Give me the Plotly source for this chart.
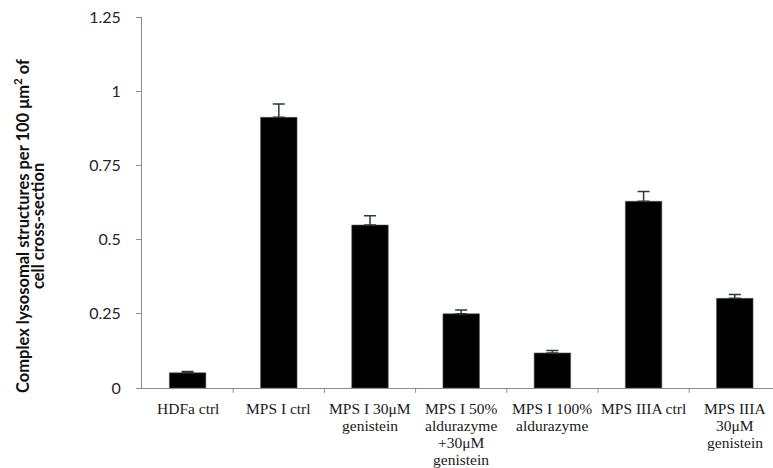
import plotly.graph_objects as go

categories = [
    "HDFa ctrl",
    "MPS I ctrl",
    "MPS I 30μM<br>genistein",
    "MPS I 50%<br>aldurazyme<br>+30μM<br>genistein",
    "MPS I 100%<br>aldurazyme",
    "MPS IIIA ctrl",
    "MPS IIIA<br>30μM<br>genistein",
]
values = [0.051, 0.912, 0.549, 0.250, 0.118, 0.629, 0.302]
errors = [0.005, 0.045, 0.031, 0.013, 0.008, 0.033, 0.013]
y_ticks = [0, 0.25, 0.5, 0.75, 1, 1.25]
y_tick_labels = ["0", "0.25", "0.5", "0.75", "1", "1.25"]
y_title_lines = ["Complex lysosomal structures per 100 μm<sup>2</sup> of", "cell cross-section"]

fig = go.Figure(
    go.Bar(
        x=list(range(len(categories))),
        y=values,
        marker=dict(color="black", line=dict(color="#555555", width=0.6)),
        error_y=dict(
            type="data",
            array=errors,
            arrayminus=[0] * len(errors),
            symmetric=False,
            color="#2b3a40",
            thickness=1.5,
            width=6,
        ),
        width=0.4,
    )
)

fig.update_layout(
    width=773,
    height=468,
    margin=dict(l=142, r=0, t=17, b=80, autoexpand=False),
    plot_bgcolor="white",
    paper_bgcolor="white",
    showlegend=False,
    xaxis=dict(
        tickmode="array",
        tickvals=list(range(len(categories))),
        showticklabels=False,
        range=[-0.5, 6.419],
        showline=True,
        linecolor="#8c8c8c",
        linewidth=1,
        ticks="",
        showgrid=False,
        zeroline=False,
        automargin=False,
    ),
    yaxis=dict(
        range=[0, 1.25],
        tickvals=y_ticks,
        ticktext=y_tick_labels,
        showline=True,
        linecolor="#8c8c8c",
        linewidth=1,
        ticks="outside",
        ticklen=5,
        tickcolor="#8c8c8c",
        showgrid=False,
        zeroline=False,
        ticklabelstandoff=12,
        automargin=False,
        tickfont=dict(family="Lato, Carlito, Calibri, sans-serif", size=16, color="#262626"),
    ),
)

# y-axis title, two rotated lines
title_x_px = [22, 38]
plot_w = 773 - 142
for line, xp in zip(y_title_lines, title_x_px):
    fig.add_annotation(
        text=line,
        textangle=-90,
        xref="paper",
        yref="paper",
        x=(xp - 142) / plot_w,
        y=(388 - 226) / 371,
        xanchor="center",
        yanchor="middle",
        showarrow=False,
        font=dict(family="Lato, Carlito, Calibri, sans-serif", size=16.5, color="#111111", weight="bold"),
    )

# category labels, line by line with tight spacing
for i, cat in enumerate(categories):
    for j, line in enumerate(cat.split("<br>")):
        fig.add_annotation(
            text=line,
            xref="x",
            yref="paper",
            x=i,
            y=0,
            xanchor="center",
            yanchor="middle",
            yshift=-(20 + 17.3 * j),
            showarrow=False,
            font=dict(family="Liberation Serif, Times New Roman, serif", size=15.5, color="#1a1a1a"),
        )

# x-axis tick marks at category boundaries
for b in [0.5, 1.5, 2.5, 3.5, 4.5, 5.5]:
    fig.add_shape(
        type="line", xref="x", yref="paper", x0=b, x1=b, y0=0, y1=-0.013,
        line=dict(color="#8c8c8c", width=1),
    )

fig.write_html(
    "out.html",
    config={"displayModeBar": False},
    post_script="document.body.style.margin='0';document.body.style.overflow='hidden';",
)
